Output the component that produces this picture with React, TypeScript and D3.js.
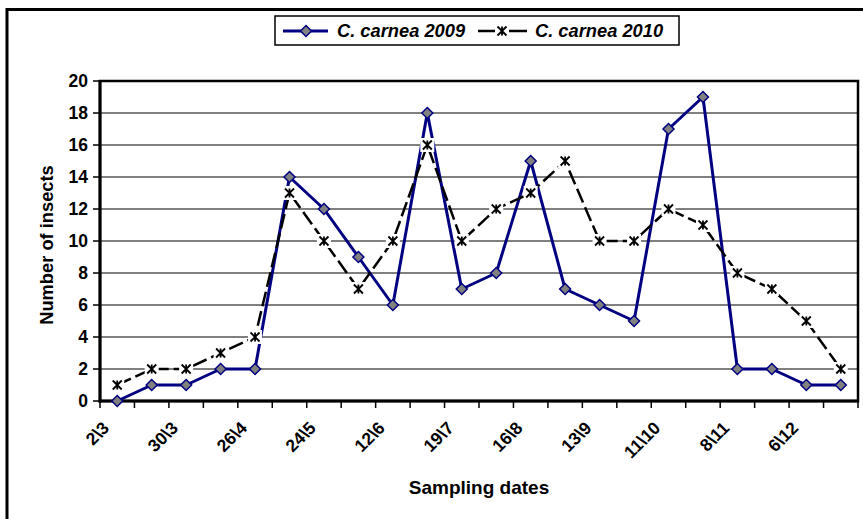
import React from 'react';
import * as d3 from 'd3';

const tickLabels = ['2\\3', '30\\3', '26\\4', '24\\5', '12\\6', '19\\7', '16\\8', '13\\9', '11\\10', '8\\11', '6\\12'];
const series2009 = [0, 1, 1, 2, 2, 14, 12, 9, 6, 18, 7, 8, 15, 7, 6, 5, 17, 19, 2, 2, 1, 1];
const series2010 = [1, 2, 2, 3, 4, 13, 10, 7, 10, 16, 10, 12, 13, 15, 10, 10, 12, 11, 8, 7, 5, 2];
const yTicks = [0, 2, 4, 6, 8, 10, 12, 14, 16, 18, 20];
const seriesNames = ['C. carnea 2009', 'C. carnea 2010'];

const W = 863;
const H = 519;
const FONT = 'Liberation Sans, Arial, sans-serif';
const NAVY = '#000080';

function Star({ cx, cy }: { cx: number; cy: number }) {
  const s = 4.5;
  return (
    <g>
      <rect x={cx - 7} y={cy - 7} width={14} height={14} fill="#fff" />
      <path
        d={`M${cx - s},${cy - s}L${cx + s},${cy + s}M${cx - s},${cy + s}L${cx + s},${cy - s}M${cx},${cy - s}L${cx},${cy + s}`}
        stroke="#000"
        strokeWidth={1.8}
      />
    </g>
  );
}

function Diamond({ cx, cy }: { cx: number; cy: number }) {
  const r = 5.5;
  return (
    <path
      d={`M${cx},${cy - r}L${cx + r},${cy}L${cx},${cy + r}L${cx - r},${cy}Z`}
      fill="#808080"
      stroke={NAVY}
      strokeWidth={1.5}
    />
  );
}

export default function App() {
  const n = series2009.length;
  const x = d3.scaleBand<number>().domain(d3.range(n)).range([100, 858]);
  const y = d3.scaleLinear().domain([0, 20]).range([401, 81]);
  const cx = (i: number) => (x(i) as number) + x.bandwidth() / 2;
  const line = d3
    .line<number>()
    .x((_, i) => cx(i))
    .y((d) => y(d));

  const [x0, x1] = x.range();
  const [yb, yt] = y.range();

  return (
    <svg
      width={W}
      height={H}
      style={{ position: 'absolute', left: 0, top: 0, background: '#fff' }}
      fontFamily={FONT}
    >
      <rect x={0} y={0} width={W} height={H} fill="#fff" />
      {/* outer chart frame */}
      <rect x={7} y={9.5} width={900} height={600} fill="none" stroke="#000" strokeWidth={3} />

      {/* gridlines */}
      {yTicks.filter((t) => t > 0 && t < 20).map((t) => (
        <line key={t} x1={x0} x2={x1} y1={y(t)} y2={y(t)} stroke="#000" strokeWidth={1} />
      ))}

      {/* plot border */}
      <rect x={x0} y={yt} width={x1 - x0} height={yb - yt} fill="none" stroke="#000" strokeWidth={2.5} />
      <line x1={x0} x2={x0} y1={yt - 1} y2={yb + 1.5} stroke="#000" strokeWidth={3} />
      <line x1={x0 - 1.5} x2={x1 + 1} y1={yb} y2={yb} stroke="#000" strokeWidth={3} />

      {/* y ticks */}
      {yTicks.map((t) => (
        <g key={t}>
          <line x1={x0 - 7} x2={x0} y1={y(t)} y2={y(t)} stroke="#000" strokeWidth={1.5} />
          <text x={x0 - 12} y={y(t)} dy="0.36em" textAnchor="end" fontSize={17.5} fontWeight="bold">
            {t}
          </text>
        </g>
      ))}

      {/* x ticks */}
      {d3.range(n + 1).map((i) => {
        const xx = i < n ? (x(i) as number) : x1;
        return <line key={i} x1={xx} x2={xx} y1={yb} y2={yb + 7} stroke="#000" strokeWidth={1.5} />;
      })}
      {tickLabels.map((lab, k) => {
        const i = k * 2;
        const px = cx(i) - 7;
        const py = 429;
        return (
          <text
            key={lab}
            transform={`translate(${px},${py}) rotate(-45)`}
            textAnchor="end"
            fontSize={17.5}
            fontWeight="bold"
          >
            {lab}
          </text>
        );
      })}

      {/* axis titles */}
      <text x={479} y={494} textAnchor="middle" fontSize={19} fontWeight="bold">
        Sampling dates
      </text>
      <text
        transform={`translate(53,245) rotate(-90)`}
        textAnchor="middle"
        fontSize={18.3}
        fontWeight="bold"
      >
        Number of insects
      </text>

      {/* series 2009 */}
      <path d={line(series2009) || ''} fill="none" stroke={NAVY} strokeWidth={3} strokeLinejoin="round" />
      {series2009.map((v, i) => (
        <Diamond key={i} cx={cx(i)} cy={y(v)} />
      ))}

      {/* series 2010 */}
      <path
        d={line(series2010) || ''}
        fill="none"
        stroke="#000"
        strokeWidth={2.5}
        strokeDasharray="15,5"
      />
      {series2010.map((v, i) => (
        <Star key={i} cx={cx(i)} cy={y(v)} />
      ))}

      {/* legend */}
      <rect x={275} y={16} width={404} height={29} fill="#fff" stroke="#000" strokeWidth={1.5} />
      <line x1={283} x2={328} y1={31} y2={31} stroke={NAVY} strokeWidth={3} />
      <Diamond cx={306} cy={31} />
      <text x={337} y={37} fontSize={18.3} fontWeight="bold" fontStyle="italic">
        {seriesNames[0]}
      </text>
      <line x1={478} x2={527} y1={31} y2={31} stroke="#000" strokeWidth={2.5} />
      <Star cx={502} cy={31} />
      <text x={535} y={37} fontSize={18.3} fontWeight="bold" fontStyle="italic">
        {seriesNames[1]}
      </text>
    </svg>
  );
}
